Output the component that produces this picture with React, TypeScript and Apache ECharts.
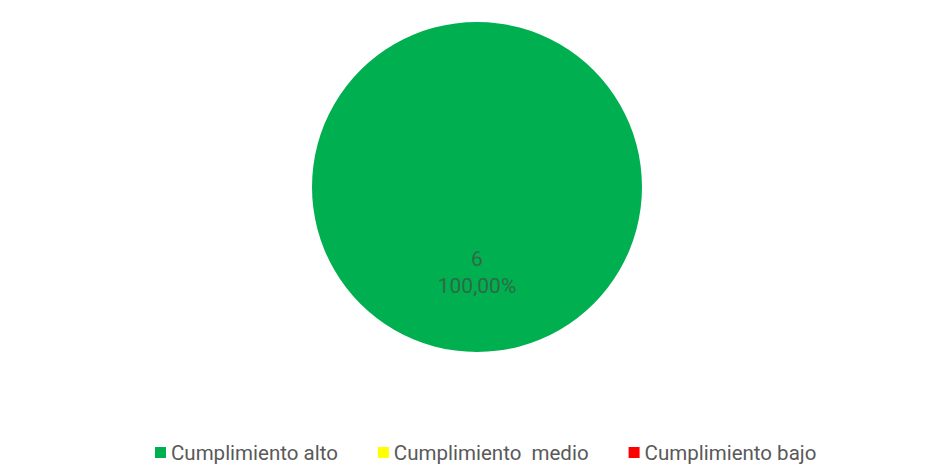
import React, { useEffect, useRef } from "react";
import * as echarts from "echarts";

const categories = ["Cumplimiento alto", "Cumplimiento  medio", "Cumplimiento bajo"];
const values = [6, 0, 0];
const colors = ["#00B050", "#FFFF00", "#FF0000"];

export default function App() {
  const ref = useRef<HTMLDivElement>(null);
  useEffect(() => {
    document.body.style.margin = "0";
    const chart = echarts.init(ref.current!, null, { renderer: "svg" });
    const total = values.reduce((a, b) => a + b, 0);
    chart.setOption({
      animation: false,
      backgroundColor: "#ffffff",
      legend: {
        top: 437,
        left: 150,
        itemWidth: 11,
        itemHeight: 11,
        itemGap: 40,
        icon: "rect",
        textStyle: { fontSize: 20.5, color: "#595959", fontFamily: "Roboto" },
        data: categories,
      },
      series: [
        {
          type: "pie",
          center: [477, 187],
          radius: 165,
          startAngle: 90,
          clockwise: true,
          silent: true,
          label: {
            position: "inside",
            fontSize: 21,
            lineHeight: 27,
            color: "#2f6a46",
            fontFamily: "Roboto",
            formatter: (p: any) =>
              `${p.value}\n${((p.value / total) * 100).toFixed(2).replace(".", ",")}%`,
          },
          labelLine: { show: false },
          itemStyle: { borderWidth: 0 },
          data: categories.map((name, i) => ({
            name,
            value: values[i],
            itemStyle: { color: colors[i] },
            label: { show: values[i] > 0 },
          })),
        },
      ],
    });
    return () => chart.dispose();
  }, []);
  return <div ref={ref} style={{ width: 935, height: 471 }} />;
}
